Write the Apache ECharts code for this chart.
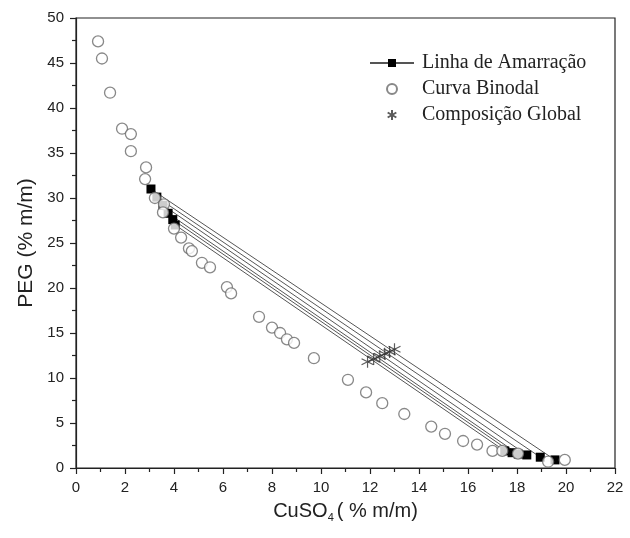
<!DOCTYPE html>
<html>
<head>
<meta charset="utf-8">
<script src="https://cdn.jsdelivr.net/npm/echarts@6/dist/echarts.min.js"></script>
<style>
  html, body { margin: 0; padding: 0; background: #fff; }
  #chart { width: 630px; height: 538px; }
</style>
</head>
<body>
<div id="chart"></div>
<script>
// Curva binodal (CuSO4 %, PEG %)
const binodalX = [0.9, 1.06, 1.39, 1.88, 2.24, 2.24, 2.86, 2.82, 3.22, 3.59, 3.55, 4.0, 4.29, 4.61, 4.73, 5.14, 5.47, 6.16, 6.33,
  7.47, 8.0, 8.33, 8.61, 8.9, 9.71, 11.1, 11.84, 12.5, 13.4, 14.5, 15.06, 15.8, 16.37, 17.0, 17.4, 18.04, 19.27, 19.95]
const binodalY = [47.4, 45.5, 41.7, 37.7, 37.1, 35.2, 33.4, 32.1, 30.0, 29.3, 28.4, 26.6, 25.6, 24.4, 24.1, 22.8, 22.3, 20.1, 19.4,
  16.8, 15.6, 15.0, 14.3, 13.9, 12.2, 9.8, 8.4, 7.2, 6.0, 4.6, 3.8, 3.0, 2.6, 1.9, 1.9, 1.6, 0.7, 0.9]

// Linhas de amarração: extremidade superior / inferior
const tieTopX = [3.06, 3.3, 3.55, 3.76, 3.95, 4.05]
const tieTopY = [31.0, 30.1, 29.2, 28.3, 27.6, 27.0]
const tieBotX = [19.55, 18.95, 18.4, 18.05, 17.8, 17.5]
const tieBotY = [0.9, 1.2, 1.45, 1.55, 1.7, 1.9]

// Composição global
const globalX = [11.9, 12.15, 12.4, 12.6, 12.8, 13.0]
const globalY = [11.8, 12.1, 12.4, 12.7, 12.9, 13.2]

const xTicks = { min: 0, max: 22, interval: 2 }
const yTicks = { min: 0, max: 50, interval: 5 }

const starPath = 'path://M5,0L5,10M0.67,2.5L9.33,7.5M0.67,7.5L9.33,2.5'
const axisFont = 'Liberation Sans, Arial, sans-serif'

const chart = echarts.init(document.getElementById('chart'))

const tieSeries = tieTopX.map((_, i) => ({
  name: 'Linha de Amarração',
  type: 'line',
  symbol: 'rect',
  symbolSize: 9,
  itemStyle: { color: '#000' },
  lineStyle: { color: '#555', width: 1 },
  z: 2,
  data: [[tieTopX[i], tieTopY[i]], [tieBotX[i], tieBotY[i]]]
}))

chart.setOption({
  animation: false,
  grid: { left: 76, right: 15, top: 18, bottom: 70, show: true, borderColor: '#222', borderWidth: 1.2 },
  legend: {
    orient: 'vertical',
    left: 369,
    top: 53,
    padding: 0,
    itemWidth: 44,
    itemHeight: 10,
    itemGap: 6,
    textStyle: {
      fontFamily: 'Liberation Serif, Times New Roman, serif', fontSize: 20, lineHeight: 20,
      color: '#222', padding: [0, 0, 0, 3]
    },
    data: ['Linha de Amarração', 'Curva Binodal', 'Composição Global']
  },
  xAxis: {
    type: 'value',
    ...xTicks,
    name: '{a|CuSO}{s|4}{a|( % m/m)}',
    nameLocation: 'middle',
    nameGap: 32,
    nameTextStyle: {
      rich: {
        a: { fontFamily: axisFont, fontSize: 20, color: '#222' },
        s: { fontFamily: axisFont, fontSize: 11, color: '#222', padding: [12, 3, 0, 0] }
      }
    },
    axisLine: { lineStyle: { color: '#222', width: 1.2 } },
    axisTick: { length: 6, lineStyle: { color: '#222', width: 1.2 } },
    minorTick: { show: true, splitNumber: 2, length: 4, lineStyle: { color: '#222', width: 1.2 } },
    axisLabel: { fontFamily: axisFont, fontSize: 15, color: '#222', margin: 12 },
    splitLine: { show: false }
  },
  yAxis: {
    type: 'value',
    ...yTicks,
    name: 'PEG (% m/m)',
    nameLocation: 'middle',
    nameGap: 27,
    nameTextStyle: { fontFamily: axisFont, fontSize: 21, color: '#222' },
    axisLine: { show: true, lineStyle: { color: '#222', width: 1.2 } },
    axisTick: { show: true, length: 6, lineStyle: { color: '#222', width: 1.2 } },
    minorTick: { show: true, splitNumber: 2, length: 4, lineStyle: { color: '#222', width: 1.2 } },
    axisLabel: { fontFamily: axisFont, fontSize: 15, color: '#222', margin: 12 },
    splitLine: { show: false }
  },
  series: [
    ...tieSeries,
    {
      name: 'Curva Binodal',
      type: 'scatter',
      symbol: 'circle',
      symbolSize: 11,
      itemStyle: { color: '#fff', borderColor: '#6a6a6a', borderWidth: 1.3 },
      z: 3,
      data: binodalX.map((x, i) => [x, binodalY[i]])
    },
    {
      name: 'Composição Global',
      type: 'scatter',
      symbol: starPath,
      symbolSize: 12,
      itemStyle: { color: 'rgba(0,0,0,0)', borderColor: '#333', borderWidth: 1.2 },
      z: 4,
      data: globalX.map((x, i) => [x, globalY[i]])
    }
  ]
})
</script>
</body>
</html>
